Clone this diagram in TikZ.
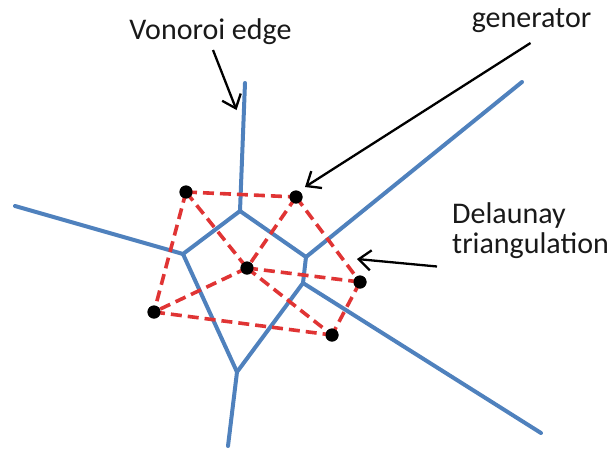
\documentclass[tikz,border=0pt]{standalone}
\usepackage{fontspec}
\setmainfont{Carlito}
\usetikzlibrary{arrows.meta}
\definecolor{vblue}{RGB}{79,129,189}
\definecolor{dred}{RGB}{224,52,52}
\tikzset{
  vedge/.style={draw=vblue, line width=4pt, line cap=round, line join=round},
  dedge/.style={draw=dred, line width=3.6pt, dash pattern=on 11pt off 6pt},
  gen/.style={circle, fill=black, inner sep=0pt, minimum size=13pt},
  lbl/.style={inner sep=0pt, font=\fontsize{30}{30}\selectfont, text=black!90},
  pointer/.style={draw=black, line width=2.3pt, -{Straight Barb[length=12pt, width=20pt, line width=2.3pt]}}
}
\begin{document}
\begin{tikzpicture}[x=1pt, y=-1pt]
\useasboundingbox (0,0) rectangle (614,448);
% Voronoi vertices and free ends
\coordinate (V1) at (240,211);
\coordinate (V2) at (183,254);
\coordinate (V3) at (306,257);
\coordinate (V4) at (303,283);
\coordinate (V5) at (237,372);
\coordinate (Etop) at (245,83);
\coordinate (Eleft) at (15,206);
\coordinate (Eur) at (522,82);
\coordinate (Elr) at (541,433);
\coordinate (Ebot) at (228,446);
% Voronoi edges
\draw[vedge] (Etop) -- (V1);
\draw[vedge] (V1) -- (V2);
\draw[vedge] (V1) -- (V3);
\draw[vedge] (Eleft) -- (V2);
\draw[vedge] (V2) -- (V5);
\draw[vedge] (V3) -- (Eur);
\draw[vedge] (V3) -- (V4);
\draw[vedge] (V4) -- (V5);
\draw[vedge] (V4) -- (Elr);
\draw[vedge] (V5) -- (Ebot);
% generators
\node[gen] (G1) at (186,192) {};
\node[gen] (G2) at (296,197) {};
\node[gen] (G3) at (247,268) {};
\node[gen] (G4) at (360,282) {};
\node[gen] (G5) at (154,312) {};
\node[gen] (G6) at (332,335) {};
% Delaunay edges
\draw[dedge] (G1.center) -- (G2.center);
\draw[dedge] (G1.center) -- (G5.center);
\draw[dedge] (G1.center) -- (G3.center);
\draw[dedge] (G2.center) -- (G3.center);
\draw[dedge] (G2.center) -- (G4.center);
\draw[dedge] (G3.center) -- (G4.center);
\draw[dedge] (G3.center) -- (G5.center);
\draw[dedge] (G3.center) -- (G6.center);
\draw[dedge] (G5.center) -- (G6.center);
\draw[dedge] (G4.center) -- (G6.center);
% redraw dots on top
\foreach \g in {G1,G2,G3,G4,G5,G6} \fill[black] (\g.center) circle (6.5pt);
% labels
\node[lbl, anchor=base] (lv) at (210.5,39) {Vonoroi edge};
\node[lbl, anchor=base] (lg) at (531.5,27) {generator};
\node[lbl, anchor=base west, align=left] (ld) at (452,253) {Delaunay\\triangulation};
% pointers
\coordinate (pv1) at (213,50);
\coordinate (pv2) at (236.5,110);
\coordinate (pg1) at (530.5,43);
\coordinate (pg2) at (305,187);
\coordinate (pd1) at (437,266.5);
\coordinate (pd2) at (357,259);
\draw[pointer] (pv1) -- (pv2);
\draw[pointer] (pg1) -- (pg2);
\draw[pointer] (pd1) -- (pd2);
\end{tikzpicture}
\end{document}
